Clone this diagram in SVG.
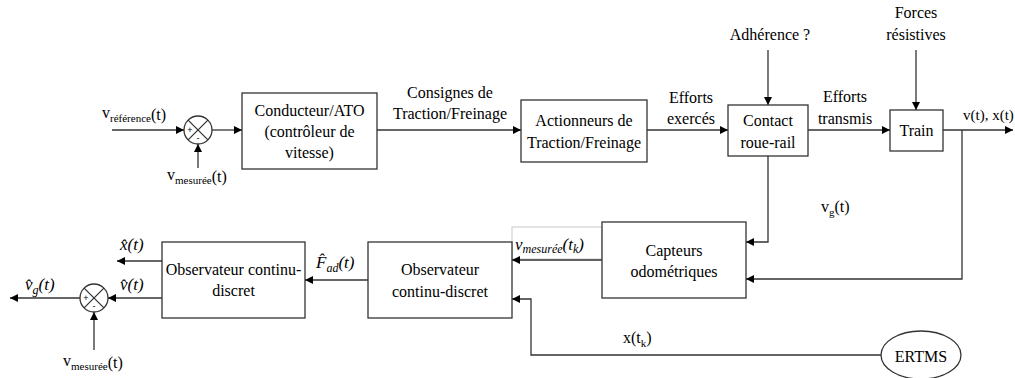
<svg xmlns="http://www.w3.org/2000/svg" width="1015" height="378" viewBox="0 0 1015 378" font-family="'Liberation Serif', Tinos, 'Times New Roman', 'DejaVu Serif', serif">
<defs>
<marker id="ah" viewBox="0 0 10 10" refX="10" refY="5" markerWidth="8" markerHeight="8" markerUnits="userSpaceOnUse" orient="auto">
<path d="M0,0 L10,5 L0,10 z" fill="#000"/>
</marker>
</defs>
<style>
text{font-family:'Liberation Serif',Tinos,'Times New Roman','DejaVu Serif',serif;font-size:16px;fill:#000}
.c{text-anchor:middle}
.m{font-style:italic;font-size:17px}
.sub{font-size:11px}
.msub{font-size:12px}
.sg{font-size:9px;font-family:'Liberation Sans',Arial,sans-serif}
.box{fill:#fff;stroke:#333;stroke-width:1.3}
.ln{fill:none;stroke:#333;stroke-width:1.3}
.ar{fill:none;stroke:#333;stroke-width:1.3;marker-end:url(#ah)}
</style>
<rect width="1015" height="378" fill="#fff"/>
<g id="connectors">
<path class="ar" d="M112,130 H184"/>
<path class="ar" d="M198,168 V144"/>
<path class="ar" d="M212,130 H242"/>
<path class="ar" d="M377,130 H521"/>
<path class="ar" d="M647,130 H728"/>
<path class="ar" d="M768,50 V105"/>
<path class="ar" d="M808,130 H890"/>
<path class="ar" d="M916,50 V110"/>
<path class="ar" d="M943,130 H1013"/>
<path class="ar" d="M962,130 V279 H746"/>
<path class="ar" d="M768,156 V242 H746"/>
<rect x="512" y="227" width="90" height="32" fill="none" stroke="#c8c8c8" stroke-width="1"/>
<path class="ar" d="M602,260 H512"/>
<path class="ar" d="M881,355 H531 V299 H512"/>
<path class="ar" d="M368,280 H305"/>
<path class="ar" d="M162,261 H117"/>
<path class="ar" d="M162,298 H108"/>
<path class="ar" d="M80,298 H10"/>
<path class="ar" d="M94,350 V312"/>
</g>
<g id="sum1">
<circle cx="198" cy="130" r="14" class="box"/>
<path class="ln" d="M188.1,120.1 L207.9,139.9 M207.9,120.1 L188.1,139.9"/>
<text x="190" y="133" class="sg c">+</text>
<text x="198" y="141" class="sg c">-</text>
</g>
<g id="sum2">
<circle cx="94" cy="298" r="14" class="box"/>
<path class="ln" d="M84.1,288.1 L103.9,307.9 M103.9,288.1 L84.1,307.9"/>
<text x="86" y="301" class="sg c">+</text>
<text x="94" y="309" class="sg c">-</text>
</g>
<g id="conducteur">
<rect x="242" y="93" width="135" height="76" class="box"/>
<text x="309.5" y="116" class="c">Conducteur/ATO</text>
<text x="309.5" y="137" class="c">(contrôleur de</text>
<text x="309.5" y="158" class="c">vitesse)</text>
</g>
<g id="actionneurs">
<rect x="521" y="100" width="126" height="62" class="box"/>
<text x="584" y="126" class="c">Actionneurs de</text>
<text x="584" y="148" class="c">Traction/Freinage</text>
</g>
<g id="contact">
<rect x="728" y="105" width="80" height="51" class="box"/>
<text x="768" y="126" class="c">Contact</text>
<text x="768" y="148" class="c">roue-rail</text>
</g>
<g id="train">
<rect x="890" y="110" width="53" height="41" class="box"/>
<text x="916.5" y="136" class="c">Train</text>
</g>
<g id="capteurs">
<rect x="602" y="222" width="144" height="76" class="box"/>
<text x="674" y="256" class="c">Capteurs</text>
<text x="674" y="277" class="c">odométriques</text>
</g>
<g id="observateur2">
<rect x="368" y="242" width="144" height="76" class="box"/>
<text x="440" y="275" class="c">Observateur</text>
<text x="440" y="297" class="c">continu-discret</text>
</g>
<g id="observateur1">
<rect x="162" y="242" width="143" height="76" class="box"/>
<text x="233.5" y="275" class="c">Observateur continu-</text>
<text x="233.5" y="296" class="c">discret</text>
</g>
<g id="ertms">
<ellipse cx="921" cy="355" rx="40" ry="24" class="box"/>
<text x="921" y="362" class="c">ERTMS</text>
</g>
<g id="labels">
<text x="102" y="118">v<tspan class="sub" dy="4">référence</tspan><tspan dy="-2">(t)</tspan></text>
<text x="167" y="180">v<tspan class="sub" dy="4">mesurée</tspan><tspan dy="-2">(t)</tspan></text>
<text x="63" y="366">v<tspan class="sub" dy="4">mesurée</tspan><tspan dy="-2">(t)</tspan></text>
<text x="450" y="98" class="c">Consignes de</text>
<text x="450" y="119" class="c">Traction/Freinage</text>
<text x="691" y="103" class="c">Efforts</text>
<text x="691" y="124" class="c">exercés</text>
<text x="770" y="40" class="c">Adhérence ?</text>
<text x="845" y="102" class="c">Efforts</text>
<text x="845" y="124" class="c">transmis</text>
<text x="916" y="18" class="c">Forces</text>
<text x="916" y="40" class="c">résistives</text>
<text x="963" y="120" style="font-size:15px">v(t), x(t)</text>
<text x="821" y="212">v<tspan class="sub" dy="4">g</tspan><tspan dy="-4">(t)</tspan></text>
<text x="623" y="343">x(t<tspan class="sub" dy="4">k</tspan><tspan dy="-4">)</tspan></text>
<text x="515" y="250" class="m">v<tspan class="msub" dy="3">mesurée</tspan><tspan dy="-3">(t</tspan><tspan class="msub" dy="3">k</tspan><tspan dy="-3">)</tspan></text>
<text x="316" y="268" class="m">F̂<tspan class="msub" dy="4">ad</tspan><tspan dy="-4">(t)</tspan></text>
<text x="120" y="250" class="m">x̂(t)</text>
<text x="120" y="290" class="m">v̂(t)</text>
<text x="25" y="290" class="m">v̂<tspan class="msub" dy="4">g</tspan><tspan dy="-4">(t)</tspan></text>
</g>
</svg>
